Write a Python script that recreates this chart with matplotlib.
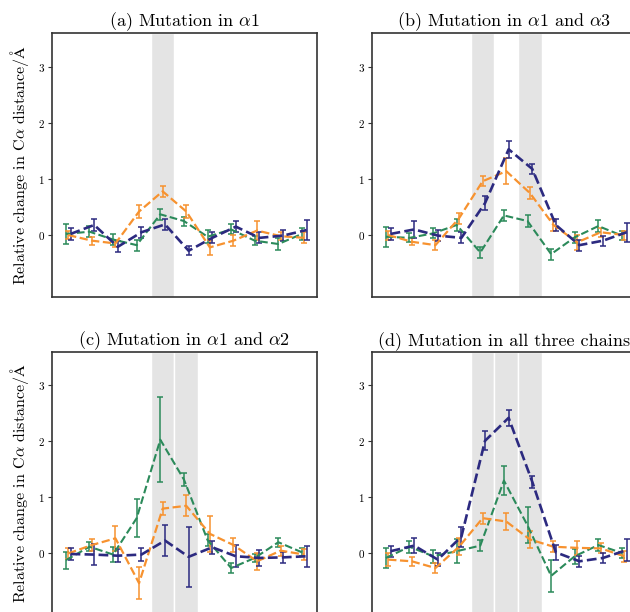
import matplotlib
matplotlib.use("Agg")
import matplotlib.pyplot as plt
import numpy as np

plt.rcParams['font.family'] = 'serif'
plt.rcParams['font.serif'] = ['cmr10', 'DejaVu Serif']
plt.rcParams['mathtext.fontset'] = 'cm'
plt.rcParams['axes.formatter.use_mathtext'] = True

# ---------------- data ----------------
positions = list(range(11))
titles = [r"(a) Mutation in $\alpha1$",
          r"(b) Mutation in $\alpha1$ and $\alpha3$",
          r"(c) Mutation in $\alpha1$ and $\alpha2$",
          r"(d) Mutation in all three chains"]
mutated_sites = [[4], [4, 6], [4, 5], [4, 5, 6]]

# panel (a)
a_green = [0.02, 0.06, -0.08, -0.18, 0.37, 0.25, -0.03, 0.10, -0.10, -0.16, 0.02]
a_green_err = [0.18, 0.10, 0.10, 0.10, 0.10, 0.08, 0.12, 0.09, 0.08, 0.10, 0.10]
a_orange = [0.00, -0.10, -0.15, 0.42, 0.78, 0.42, -0.22, -0.10, 0.08, -0.02, -0.05]
a_orange_err = [0.07, 0.07, 0.06, 0.11, 0.10, 0.12, 0.13, 0.10, 0.17, 0.07, 0.10]
a_blue = [0.02, 0.18, -0.21, 0.05, 0.19, -0.28, -0.05, 0.15, -0.05, -0.01, 0.09]
a_blue_err = [0.10, 0.10, 0.10, 0.10, 0.10, 0.08, 0.10, 0.10, 0.10, 0.10, 0.17]

# panel (b)
b_green = [-0.03, -0.05, 0.03, 0.18, -0.31, 0.35, 0.25, -0.34, -0.04, 0.16, -0.01]
b_green_err = [0.18, 0.08, 0.09, 0.10, 0.10, 0.10, 0.10, 0.10, 0.10, 0.11, 0.08]
b_orange = [0.00, -0.12, -0.18, 0.30, 0.96, 1.14, 0.75, 0.18, -0.13, 0.05, 0.00]
b_orange_err = [0.08, 0.06, 0.09, 0.10, 0.09, 0.23, 0.10, 0.10, 0.13, 0.08, 0.08]
b_blue = [0.02, 0.10, -0.01, -0.05, 0.57, 1.53, 1.18, 0.18, -0.18, -0.10, 0.05]
b_blue_err = [0.10, 0.15, 0.10, 0.10, 0.12, 0.15, 0.09, 0.10, 0.10, 0.09, 0.17]

# panel (c)
c_green = [-0.12, 0.12, -0.02, 0.63, 2.03, 1.32, 0.24, -0.26, -0.08, 0.20, 0.02]
c_green_err = [0.15, 0.08, 0.13, 0.34, 0.76, 0.12, 0.10, 0.09, 0.07, 0.08, 0.07]
c_orange = [0.00, 0.15, 0.27, -0.53, 0.80, 0.85, 0.35, 0.15, -0.14, 0.05, -0.02]
c_orange_err = [0.10, 0.10, 0.22, 0.28, 0.11, 0.19, 0.32, 0.12, 0.15, 0.09, 0.10]
c_blue = [-0.01, -0.02, -0.04, -0.02, 0.23, -0.06, 0.11, -0.05, -0.08, -0.07, -0.05]
c_blue_err = [0.10, 0.19, 0.12, 0.12, 0.27, 0.53, 0.12, 0.20, 0.14, 0.10, 0.19]

# panel (d)
d_green = [-0.08, 0.12, -0.05, 0.04, 0.14, 1.30, 0.50, -0.40, -0.05, 0.15, 0.01]
d_green_err = [0.18, 0.11, 0.12, 0.21, 0.10, 0.26, 0.32, 0.28, 0.13, 0.10, 0.09]
d_orange = [-0.11, -0.14, -0.26, 0.12, 0.63, 0.57, 0.25, 0.12, 0.10, 0.09, -0.05]
d_orange_err = [0.12, 0.08, 0.09, 0.15, 0.10, 0.15, 0.15, 0.10, 0.12, 0.09, 0.10]
d_blue = [0.04, 0.14, -0.11, 0.30, 2.01, 2.42, 1.28, 0.02, -0.14, -0.08, 0.06]
d_blue_err = [0.10, 0.13, 0.12, 0.18, 0.17, 0.14, 0.11, 0.13, 0.10, 0.09, 0.19]

panels = [
    (a_green, a_green_err, a_orange, a_orange_err, a_blue, a_blue_err),
    (b_green, b_green_err, b_orange, b_orange_err, b_blue, b_blue_err),
    (c_green, c_green_err, c_orange, c_orange_err, c_blue, c_blue_err),
    (d_green, d_green_err, d_orange, d_orange_err, d_blue, d_blue_err),
]

GREEN = '#2b8a5a'
ORANGE = '#f7922f'
BLUE = '#2c2a80'
BAND = '#e4e4e4'

W, H = 630, 612
fig = plt.figure(figsize=(W / 100, H / 100), dpi=100)

ax_w, ax_h = 265.6, 263.4
lefts = [51.7, 371.7]
tops = [33.3, 351.7]
axes_boxes = []
for r in range(2):
    for c in range(2):
        l = lefts[c] / W
        b = 1 - (tops[r] + ax_h) / H
        axes_boxes.append([l, b, ax_w / W, ax_h / H])

x = np.array(positions, dtype=float)
for k, box in enumerate(axes_boxes):
    ax = fig.add_axes(box)
    g, ge, o, oe, bl, ble = panels[k]
    for s in mutated_sites[k]:
        ax.axvspan(s - 0.5, s + 0.5, facecolor=BAND, edgecolor='white',
                   linewidth=1.0, zorder=0)
    for vals, errs, col, off, lw in [(g, ge, GREEN, -0.1, 1.5),
                                     (o, oe, ORANGE, 0.0, 1.6),
                                     (bl, ble, BLUE, 0.1, 1.9)]:
        ax.errorbar(x + off, vals, yerr=errs, color=col, linestyle='--',
                    linewidth=lw, elinewidth=1.1, capsize=2.2, capthick=1.1,
                    zorder=3)
    ax.set_xlim(-0.7, 10.55)
    ax.set_ylim(-1.1, 3.6)
    ax.set_yticks([0, 1, 2, 3])
    ax.set_xticks([])
    ax.tick_params(axis='y', labelsize=8, length=3, width=0.8, pad=2,
                   color='#333333')
    for sp in ax.spines.values():
        sp.set_linewidth(1.2)
        sp.set_color('#333333')
    ax.set_title(titles[k], fontsize=13, pad=4)
    if k % 2 == 0:
        ax.set_ylabel(r"Relative change in C$\alpha$ distance/$\mathrm{\AA}$",
                      fontsize=11.5, labelpad=5)

fig.savefig("out.png", dpi=100)
